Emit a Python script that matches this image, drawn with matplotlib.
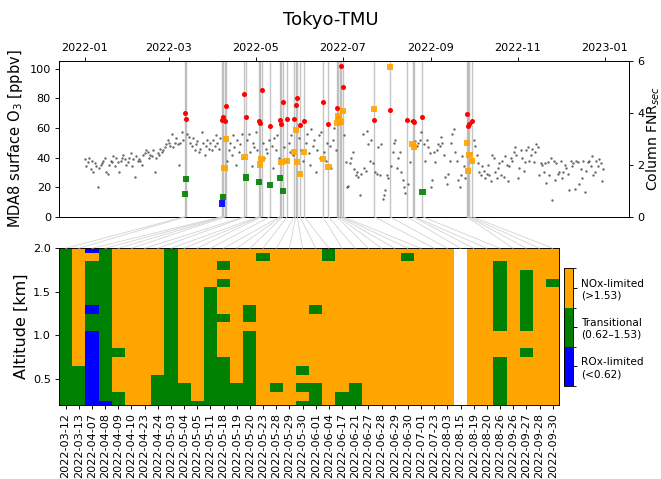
import numpy as np
import pandas as pd
import matplotlib
matplotlib.use("Agg")
import matplotlib.pyplot as plt
import matplotlib.dates as mdates
from matplotlib.colors import ListedColormap, BoundaryNorm
from matplotlib.patches import ConnectionPatch

site = "Tokyo-TMU"

# Daily MDA8 surface ozone (ppbv), one list per month of 2022
mda8_jan = [39, 34, 37, 40, 32, 38, 30, 36, 34, 20, 33, 35, 36, 38, 40, 30, 29, 35, 38, 37, 41, 34, 40, 37, 30, 38, 40, 42, 39, 35, 37]
mda8_feb = [40, 43, 34, 39, 27, 41, 38, 39, 38, 35, 42, 43, 45, 44, 40, 42, 41, 45, 30, 40, 43, 42, 46, 44, 45, 47, 49, 52]
mda8_mar = [50, 48, 56, 47, 50, 53, 49, 35, 50, 57, 52, 70, 66, 56, 54, 50, 48, 53, 45, 49, 51, 44, 46, 57, 50, 42, 48, 52, 46, 50, 45]
mda8_apr = [52, 48, 55, 50, 46, 53, 65, 67, 65, 75, 38, 45, 50, 42, 55, 47, 35, 52, 44, 49, 56, 40, 83, 68, 52, 56, 44, 34, 50, 47]
mda8_may = [57, 45, 65, 63, 85, 50, 40, 46, 43, 52, 61, 48, 33, 53, 45, 55, 40, 66, 63, 77, 47, 38, 66, 50, 44, 55, 42, 66, 76, 80, 53]
mda8_jun = [62, 45, 38, 64, 50, 56, 43, 35, 59, 48, 52, 30, 45, 55, 40, 57, 78, 44, 38, 50, 62, 48, 33, 52, 60, 45, 73, 67, 64, 101]
mda8_jul = [88, 55, 37, 20, 21, 36, 40, 44, 32, 28, 30, 27, 15, 29, 56, 33, 31, 58, 49, 38, 52, 36, 65, 30, 29, 47, 28, 49, 12, 15, 18]
mda8_aug = [28, 26, 72, 34, 44, 50, 52, 33, 40, 44, 30, 25, 20, 16, 66, 22, 37, 65, 64, 55, 51, 48, 50, 52, 57, 67, 49, 38, 52, 47, 43]
mda8_sep = [20, 25, 44, 37, 45, 49, 48, 54, 50, 42, 27, 22, 29, 38, 50, 56, 59, 44, 38, 25, 20, 28, 41, 34, 26, 69, 61, 63, 43, 65]
mda8_oct = [52, 48, 42, 36, 30, 28, 34, 31, 26, 29, 35, 28, 24, 42, 40, 30, 26, 33, 36, 28, 38, 27, 41, 35, 24, 34, 40, 38, 44, 47, 42]
mda8_nov = [26, 33, 45, 40, 31, 37, 45, 47, 38, 42, 46, 37, 44, 49, 47, 28, 36, 35, 30, 36, 23, 37, 28, 40, 11, 38, 25, 36, 29, 30]
mda8_dec = [38, 26, 30, 35, 33, 29, 18, 38, 34, 36, 19, 38, 37, 22, 32, 26, 38, 17, 31, 37, 38, 34, 41, 28, 30, 38, 34, 39, 36, 24, 32]

# Selected high-ozone days with profile retrievals
event_dates = ["2022-03-12", "2022-03-13", "2022-04-07", "2022-04-08", "2022-04-09", "2022-04-10",
               "2022-04-23", "2022-04-24", "2022-05-03", "2022-05-04", "2022-05-05", "2022-05-11",
               "2022-05-18", "2022-05-19", "2022-05-20", "2022-05-23", "2022-05-28", "2022-05-29",
               "2022-05-30", "2022-06-01", "2022-06-04", "2022-06-17", "2022-06-21", "2022-06-27",
               "2022-06-28", "2022-06-29", "2022-06-30", "2022-07-01", "2022-07-23", "2022-08-03",
               "2022-08-15", "2022-08-19", "2022-08-20", "2022-08-26", "2022-09-26", "2022-09-27",
               "2022-09-28", "2022-09-30"]
event_mda8 = [70.1, 66.0, 65.6, 67.1, 64.9, 75.1, 83.2, 67.6, 64.9, 63.3, 85.4, 61.5,
              65.6, 62.6, 77.3, 66.2, 66.0, 75.7, 80.3, 62.2, 64.5, 77.8, 62.4, 73.5,
              67.0, 64.0, 101.6, 88.0, 65.1, 71.9, 65.6, 64.9, 64.2, 67.4, 69.4, 61.5,
              62.9, 64.9]
event_fnr = [0.86, 1.44, 0.51, 0.77, 1.86, 2.98, 2.31, 1.51, 1.32, 2.01, 2.21, 1.22,
             1.49, 2.09, 1.00, 2.14, 2.50, 3.33, 2.09, 1.63, 2.48, 2.23, 1.92, 3.59,
             3.85, 3.68, 3.65, 4.08, 4.13, 5.77, np.nan, 2.80, 2.67, 0.94, 2.82, 1.76,
             2.36, 2.14]

# Vertical regime profiles, top (2.0 km) to bottom (0.2 km):
# N = NOx-limited, T = transitional, R = ROx-limited, - = no data
altitudes = [2.0, 1.9, 1.8, 1.7, 1.6, 1.5, 1.4, 1.3, 1.2, 1.1, 1.0, 0.9, 0.8, 0.7, 0.6, 0.5, 0.4, 0.3, 0.2]
profiles = [
    "TTTTTTTTTTTTTTTTTTT",  # 03-12
    "NNNNNNNNNNNNNNTTTTT",  # 03-13
    "RNTTTTTRTTRRRRRRRRR",  # 04-07
    "TTTTTTTTTTTTTTTTTTR",  # 04-08
    "NNNNNNNNNNNNTNNNNTT",  # 04-09
    "NNNNNNNNNNNNNNNNNNN",  # 04-10
    "NNNNNNNNNNNNNNNNNNN",  # 04-23
    "NNNNNNNNNNNNNNNTTTT",  # 04-24
    "TTTTTTTTTTTTTTTTTTT",  # 05-03
    "NNNNNNNNNNNNNNNNTTT",  # 05-04
    "NNNNNNNNNNNNNNNNNNT",  # 05-05
    "NNNNNTTTTTTTTTTTTTT",  # 05-11
    "NNTNTNNNTNNNNTTTTTT",  # 05-18
    "NNNNNNNNNNNNNNNNTTT",  # 05-19
    "NNNNNNNTTNTTTTTTTTT",  # 05-20
    "NTNNNNNNNNNNNNNNNNN",  # 05-23
    "NNNNNNNNNNNNNNNNTNN",  # 05-28
    "NNNNNNNNNNNNNNNNNNN",  # 05-29
    "NNNNNNNNNNNNNNTNTNT",  # 05-30
    "NNNNNNNTNNNNNNNNTTT",  # 06-01
    "TTNNNNNNNNNNNNNNNNN",  # 06-04
    "NNNNNNNNNNNNNNNNNTT",  # 06-17
    "NNNNNNNNNNNNNNNNTTT",  # 06-21
    "NNNNNNNNNNNNNNNNNNN",  # 06-27
    "NNNNNNNNNNNNNNNNNNN",  # 06-28
    "NNNNNNNNNNNNNNNNNNN",  # 06-29
    "NTNNNNNNNNNNNNNNNNN",  # 06-30
    "NNNNNNNNNNNNNNNNNNN",  # 07-01
    "NNNNNNNNNNNNNNNNNNN",  # 07-23
    "NNNNNNNNNNNNNNNNNNN",  # 08-03
    "-------------------",  # 08-15
    "NNNNNNNNNNNNNNNNNNN",  # 08-19
    "NNNNNNNNNNNNNNNNNNN",  # 08-20
    "NNTTTTTTTTNNNTTTTTT",  # 08-26
    "NNNNNNNNNNNNNNNNNNN",  # 09-26
    "NNNTTTTTTTNNTNNNNNN",  # 09-27
    "NNNNNNNNNNNNNNNNNNN",  # 09-28
    "NNNNTNNNNNNNNNNNNNN",  # 09-30
]

regime_labels = ["ROx-limited\n(<0.62)", "Transitional\n(0.62\u20131.53)", "NOx-limited\n(>1.53)"]
regime_colors = ["blue", "green", "orange"]
fnr_low, fnr_high = 0.62, 1.53

# ---------------------------------------------------------------- data prep
days = pd.date_range("2022-01-01", "2022-12-31", freq="D")
mda8 = pd.Series(mda8_jan + mda8_feb + mda8_mar + mda8_apr + mda8_may + mda8_jun +
                 mda8_jul + mda8_aug + mda8_sep + mda8_oct + mda8_nov + mda8_dec,
                 index=days, dtype=float)
ev = pd.to_datetime(event_dates)
mda8.loc[ev] = event_mda8
fnr = np.array(event_fnr, dtype=float)

code = {"R": 0, "T": 1, "N": 2, "-": np.nan}
grid = np.array([[code[c] for c in p] for p in profiles], dtype=float).T  # (alt, date)
alt = np.array(altitudes)
order = np.argsort(alt)
alt = alt[order]
grid = np.ma.masked_invalid(grid[order])

cmap = ListedColormap(regime_colors)
norm = BoundaryNorm([-0.5, 0.5, 1.5, 2.5], cmap.N)


def regime_color(v):
    if v < fnr_low:
        return regime_colors[0]
    if v <= fnr_high:
        return regime_colors[1]
    return regime_colors[2]


# ---------------------------------------------------------------- figure
plt.rcParams.update({
    "xtick.major.size": 2.9, "ytick.major.size": 2.9,
    "xtick.major.pad": 2.9, "ytick.major.pad": 2.9,
    "xtick.major.width": 0.65, "ytick.major.width": 0.65,
    "axes.linewidth": 0.65,
})

fig = plt.figure(figsize=(6.61, 4.79), dpi=100)
ax = fig.add_axes([0.0893, 0.5476, 0.8627, 0.3257])
ax2 = ax.twinx()
axh = fig.add_axes([0.0893, 0.1545, 0.7568, 0.3271])
cax = fig.add_axes([0.853, 0.194, 0.0136, 0.246])

tick_fs = 8.1

for d in ev:
    ax.axvline(d, color="gray", alpha=0.45, lw=1.0, zorder=0)
ax.scatter(mda8.index, mda8.values, s=3, color="#444444", alpha=0.8, lw=0, zorder=2)
ax.scatter(ev, event_mda8, s=13, color="red", lw=0, zorder=3)
ok = ~np.isnan(fnr)
ax2.scatter(ev[ok], fnr[ok], marker="s", s=20, c=[regime_color(v) for v in fnr[ok]],
            edgecolors="none", alpha=0.9, zorder=4)

ax.set_ylim(0, 105.5)
ax2.set_ylim(0, 6)
ax2.set_yticks([0, 2, 4, 6])
ax.set_yticks([0, 20, 40, 60, 80, 100])
ax.xaxis.set_major_locator(mdates.MonthLocator(bymonth=[1, 3, 5, 7, 9, 11]))
ax.xaxis.set_major_formatter(mdates.DateFormatter("%Y-%m"))
ax.xaxis.tick_top()
ax.tick_params(labelsize=tick_fs)
ax2.tick_params(labelsize=tick_fs)
ax.set_ylabel("MDA8 surface O$_3$ [ppbv]", fontsize=10.5, labelpad=3)
ax2.set_ylabel("Column FNR$_{sec}$", fontsize=10.2, labelpad=0)

# vertical profiles of the regime
x_edges = np.arange(len(event_dates) + 1) - 0.5
y_edges = np.concatenate([[alt[0] - 0.05], (alt[:-1] + alt[1:]) / 2, [alt[-1] + 0.05]])
mesh = axh.pcolormesh(x_edges, y_edges, grid, cmap=cmap, norm=norm)
axh.set_ylim(0.2, 2.0)
axh.set_xlim(-0.5, len(event_dates) - 0.5)
axh.set_xticks(np.arange(len(event_dates)))
axh.set_xticklabels(event_dates, rotation=90, fontsize=tick_fs)
axh.set_yticks([0.5, 1.0, 1.5, 2.0])
axh.tick_params(axis="y", labelsize=tick_fs)
axh.set_ylabel("Altitude [km]", fontsize=11.5, labelpad=3)

cb = fig.colorbar(mesh, cax=cax, ticks=[0, 1, 2])
cb.ax.set_yticklabels(regime_labels, fontsize=7.6)

# link each selected day to its profile column
for i, d in enumerate(ev):
    con = ConnectionPatch(xyA=(mdates.date2num(d), 0), coordsA=ax.get_xaxis_transform(),
                          xyB=(i, 1), coordsB=axh.get_xaxis_transform(),
                          color="lightgray", lw=0.6)
    fig.add_artist(con)

fig.text(0.5, 0.958, site, ha="center", va="center", fontsize=13)

fig.savefig("out.png", dpi=100)
